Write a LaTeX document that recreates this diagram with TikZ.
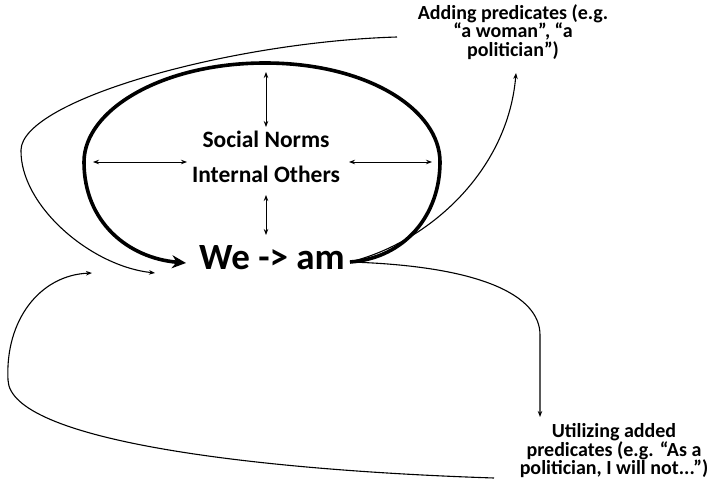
\documentclass[tikz,border=0pt]{standalone}
\usepackage{fontspec}
\setmainfont{Carlito}
\usetikzlibrary{arrows.meta}
\begin{document}
\begin{tikzpicture}[x=1pt,y=-1pt,
  thin line/.style={line width=1.1pt},
  small tip/.style={-{Stealth[length=6pt,width=4.5pt]}},
  dbl/.style={line width=0.9pt,{Stealth[length=6pt,width=4.5pt]}-{Stealth[length=6pt,width=4.5pt]}},
  lbl/.style={font=\fontsize{20}{18.5}\selectfont\bfseries,align=center,inner sep=0pt}]
\useasboundingbox (0,0) rectangle (710,484);
% nodes
\node[font=\fontsize{37}{37}\selectfont\bfseries,inner sep=0pt] (we) at (272,258) {We -> am};
\node[font=\fontsize{23.5}{35}\selectfont\bfseries,align=center,inner sep=0pt] (norms) at (266,157) {Social Norms\\Internal Others};
\node[lbl] (add) at (513,32) {Adding predicates (e.g.\\“a woman”, “a\\politician”)};
\node[lbl] (use) at (614,451) {Utilizing added\\predicates (e.g. “As a\\politician, I will not...”)};
% coordinates
\coordinate (weE) at (350,262);
\coordinate (weW) at (186,263);
\coordinate (topT) at (266,72);
\coordinate (topB) at (266,127);
\coordinate (botT) at (266,195);
\coordinate (botB) at (266,235);
\coordinate (lL) at (93,162);
\coordinate (lR) at (187,162);
\coordinate (rL) at (349,162);
\coordinate (rR) at (432,162);
\coordinate (loopStart) at (397,37);
\coordinate (loopEnd) at (155,273);
\coordinate (addTip) at (516,73);
\coordinate (useTip) at (540,417);
\coordinate (bStart) at (494,478);
\coordinate (bEnd) at (92,273);
% thick loop
\draw[line width=3.6pt,-{Stealth[length=14pt,width=13pt]}]
  (weE) .. controls (405,258) and (440,215) .. (440,162)
  .. controls (440,110) and (368,63) .. (265,63)
  .. controls (162,63) and (84,110) .. (84,162)
  .. controls (84,222) and (128,258) .. (weW);
% double arrows
\draw[dbl] (topT) -- (topB);
\draw[dbl] (botT) -- (botB);
\draw[dbl] (lL) -- (lR);
\draw[dbl] (rL) -- (rR);
% thin curves
\draw[thin line,small tip] (loopStart) .. controls (230,42) and (22,100) .. (21,150)
  .. controls (20,205) and (90,266) .. (loopEnd);
\draw[thin line,small tip] (weE) .. controls (430,242) and (508,170) .. (addTip);
\draw[thin line,small tip] (weE) .. controls (480,266) and (540,295) .. (540,335) -- (useTip);
\draw[thin line,small tip] (bStart) .. controls (250,470) and (10,440) .. (8,380)
  .. controls (5,320) and (40,275) .. (bEnd);
\end{tikzpicture}
\end{document}
